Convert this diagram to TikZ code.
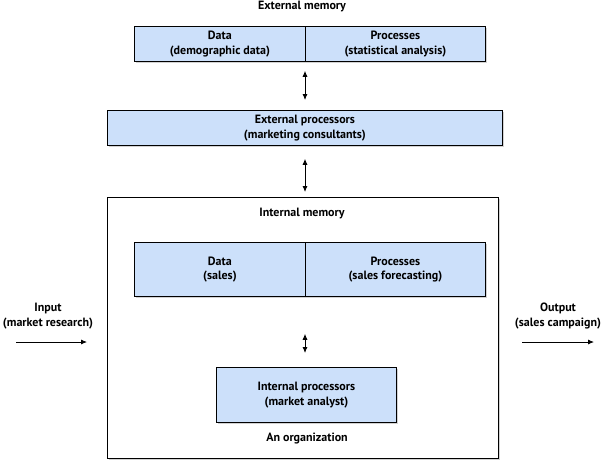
\documentclass[tikz,border=0pt]{standalone}
\usepackage{fontspec}
\setmainfont{PT Sans}
\usetikzlibrary{arrows.meta,shadows}
\definecolor{boxblue}{RGB}{204,224,250}
\begin{document}
\begin{tikzpicture}[x=1pt,y=-1pt,
  every node/.style={font=\bfseries\fontsize{12}{14.5}\selectfont, align=center, inner sep=0pt},
  bluebox/.style={draw=black, line width=0.8pt, fill=boxblue, anchor=north west,
     drop shadow={shadow xshift=1.2pt, shadow yshift=-1.2pt, fill=black!35}},
  whitebox/.style={draw=black, line width=0.8pt, fill=white, anchor=north west,
     drop shadow={shadow xshift=1.5pt, shadow yshift=-1.5pt, fill=black!35}},
  conn/.style={line width=0.8pt, {Latex[length=6pt,width=5pt]}-{Latex[length=6pt,width=5pt]}},
  flow/.style={line width=0.8pt, -{Latex[length=6pt,width=5pt]}},
  lbl/.style={}
]
\useasboundingbox (0,0) rectangle (611,464);
% External memory
\node[lbl] (extmem) at (302,7) {External memory};
\node[bluebox, minimum width=171pt, minimum height=35pt] (edata) at (134,26) {Data\\(demographic data)};
\node[bluebox, minimum width=180pt, minimum height=35pt] (eproc) at (305,26) {Processes\\(statistical analysis)};
% External processors
\node[bluebox, minimum width=395pt, minimum height=35pt] (extp) at (107,110) {External processors\\(marketing consultants)};
% Organization
\node[whitebox, minimum width=391pt, minimum height=261pt] (org) at (107,197) {};
\node[lbl] (intmem) at (302,214) {Internal memory};
\node[bluebox, minimum width=171pt, minimum height=54pt] (idata) at (134,242) {Data\\(sales)};
\node[bluebox, minimum width=180pt, minimum height=54pt] (iproc) at (305,242) {Processes\\(sales forecasting)};
\node[bluebox, minimum width=180pt, minimum height=55pt] (intp) at (216,367) {Internal processors\\(market analyst)};
\node[lbl] (orgname) at (307,438) {An organization};
% Input / output
\node[lbl] (input) at (48,316) {Input\\(market research)};
\node[lbl] (output) at (558,316) {Output\\(sales campaign)};
\coordinate (inA) at (16,342);
\coordinate (inB) at (87,342);
\coordinate (outA) at (522,342);
\coordinate (outB) at (594,342);
% Connectors
\draw[conn, shorten <=9pt, shorten >=10pt] (eproc.south west) -- (extp.north -| eproc.south west);
\draw[conn, shorten <=13pt, shorten >=5pt] (extp.south -| eproc.south west) -- (org.north -| eproc.south west);
\draw[conn, shorten <=37pt, shorten >=14pt] (iproc.south west) -- (intp.north -| iproc.south west);
\draw[flow] (inA) -- (inB);
\draw[flow] (outA) -- (outB);
\end{tikzpicture}
\end{document}
